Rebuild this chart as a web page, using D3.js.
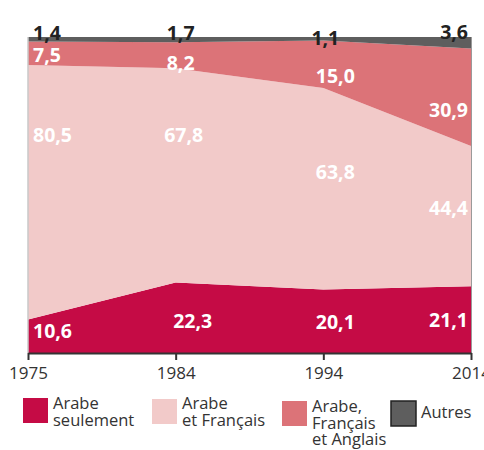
<!DOCTYPE html>
<html>
<head>
<meta charset="utf-8">
<script src="https://cdn.jsdelivr.net/npm/d3@7"></script>
<style>
  body { margin: 0; background: #fff; }
  svg { display: block; font-family: "Open Sans", sans-serif; }
</style>
</head>
<body>
<div id="chart"></div>
<script>
const years = ["1975", "1984", "1994", "2014"];
const arabeSeul = [10.6, 22.3, 20.1, 21.1];
const arabeFr = [80.5, 67.8, 63.8, 44.4];
const arabeFrAng = [7.5, 8.2, 15.0, 30.9];
const autres = [1.4, 1.7, 1.1, 3.6];

const seriesNames = [["Arabe", "seulement"], ["Arabe", "et Français"], ["Arabe,", "Français", "et Anglais"], ["Autres"]];
const seriesValues = [arabeSeul, arabeFr, arabeFrAng, autres];
const colors = ["#c50b45", "#f2cac9", "#dc7378", "#5e5e5e"];

// label placement: vertical position in % units, horizontal nudge per year
const labelPct = [
  [7.0, 10.1, 9.8, 10.4],
  [69.0, 69.0, 57.3, 46.0],
  [94.3, 91.8, 87.7, 76.9],
  [101.4, 101.4, 99.7, 101.7]
];
const labelDx = [
  [5, 17, 12, -3],
  [5, 8, 12, -3],
  [5, 5, 12, -3],
  [5, 5, 2, -3]
];

const W = 484, H = 450;
const MARGIN = {top: 37, right: 13, bottom: 97, left: 28};

const svg = d3.select("#chart").append("svg")
  .attr("width", W).attr("height", H);

const x = d3.scalePoint().domain(years).range([MARGIN.left, W - MARGIN.right]);
const y = d3.scaleLinear().domain([0, 100]).range([H - MARGIN.bottom, MARGIN.top]);

const table = years.map((yr, i) => {
  const row = {year: yr};
  seriesValues.forEach((s, k) => row["s" + k] = s[i]);
  return row;
});
const keys = seriesValues.map((s, k) => "s" + k);
const stacked = d3.stack().keys(keys)(table);

const area = d3.area()
  .x(d => x(d.data.year))
  .y0(d => y(d[0]))
  .y1(d => y(d[1]));

svg.append("g").selectAll("path")
  .data(stacked)
  .join("path")
    .attr("d", area)
    .attr("fill", (d, i) => colors[i]);

// left + right frame lines
svg.append("line")
  .attr("x1", x("1975")).attr("x2", x("1975"))
  .attr("y1", y(100)).attr("y2", y(0))
  .attr("stroke", "#c8c8c8").attr("stroke-width", 1.5);
svg.append("line")
  .attr("x1", x("2014") + 0.5).attr("x2", x("2014") + 0.5)
  .attr("y1", y(100)).attr("y2", y(0))
  .attr("stroke", "#9a9a9a").attr("stroke-width", 1);

// x axis
const xAxis = svg.append("g")
  .attr("transform", `translate(0,${y(0)})`)
  .call(d3.axisBottom(x).tickSizeInner(7).tickSizeOuter(0).tickPadding(7));
xAxis.select(".domain").attr("stroke", "#333").attr("stroke-width", 2);
xAxis.selectAll(".tick line").attr("stroke", "#333").attr("stroke-width", 2);
xAxis.selectAll(".tick text")
  .attr("font-size", 17).attr("fill", "#333")
  .attr("font-family", "Open Sans, sans-serif");

// value labels
const labels = svg.append("g")
  .attr("font-size", 19.5).attr("font-weight", "bold");
seriesValues.forEach((s, k) => {
  s.forEach((v, i) => {
    const anchor = i === 0 ? "start" : (i === years.length - 1 ? "end" : "middle");
    labels.append("text")
      .attr("x", x(years[i]) + labelDx[k][i])
      .attr("y", y(labelPct[k][i]) + 7)
      .attr("text-anchor", anchor)
      .attr("fill", k === 3 ? "#222" : "#fff")
      .text(d3.format(".1f")(v).replace(".", ","));
  });
});

// legend
const legendX = [23, 152, 282, 391];
const legendSwatchY = [398, 399, 401, 401];
const legendTextY = [409, 409, 412, 418];
const legend = svg.append("g");
seriesNames.forEach((name, k) => {
  legend.append("rect")
    .attr("x", legendX[k]).attr("y", legendSwatchY[k])
    .attr("width", 25).attr("height", 25)
    .attr("fill", colors[k])
    .attr("stroke", k === 3 ? "#222" : "none")
    .attr("stroke-width", 1.5);
  const t = legend.append("text")
    .attr("x", legendX[k] + 30).attr("y", legendTextY[k])
    .attr("font-size", 16.5).attr("fill", "#333");
  name.forEach((line, j) => {
    t.append("tspan")
      .attr("x", legendX[k] + 30)
      .attr("dy", j === 0 ? 0 : 16.5)
      .text(line);
  });
});
</script>
</body>
</html>
